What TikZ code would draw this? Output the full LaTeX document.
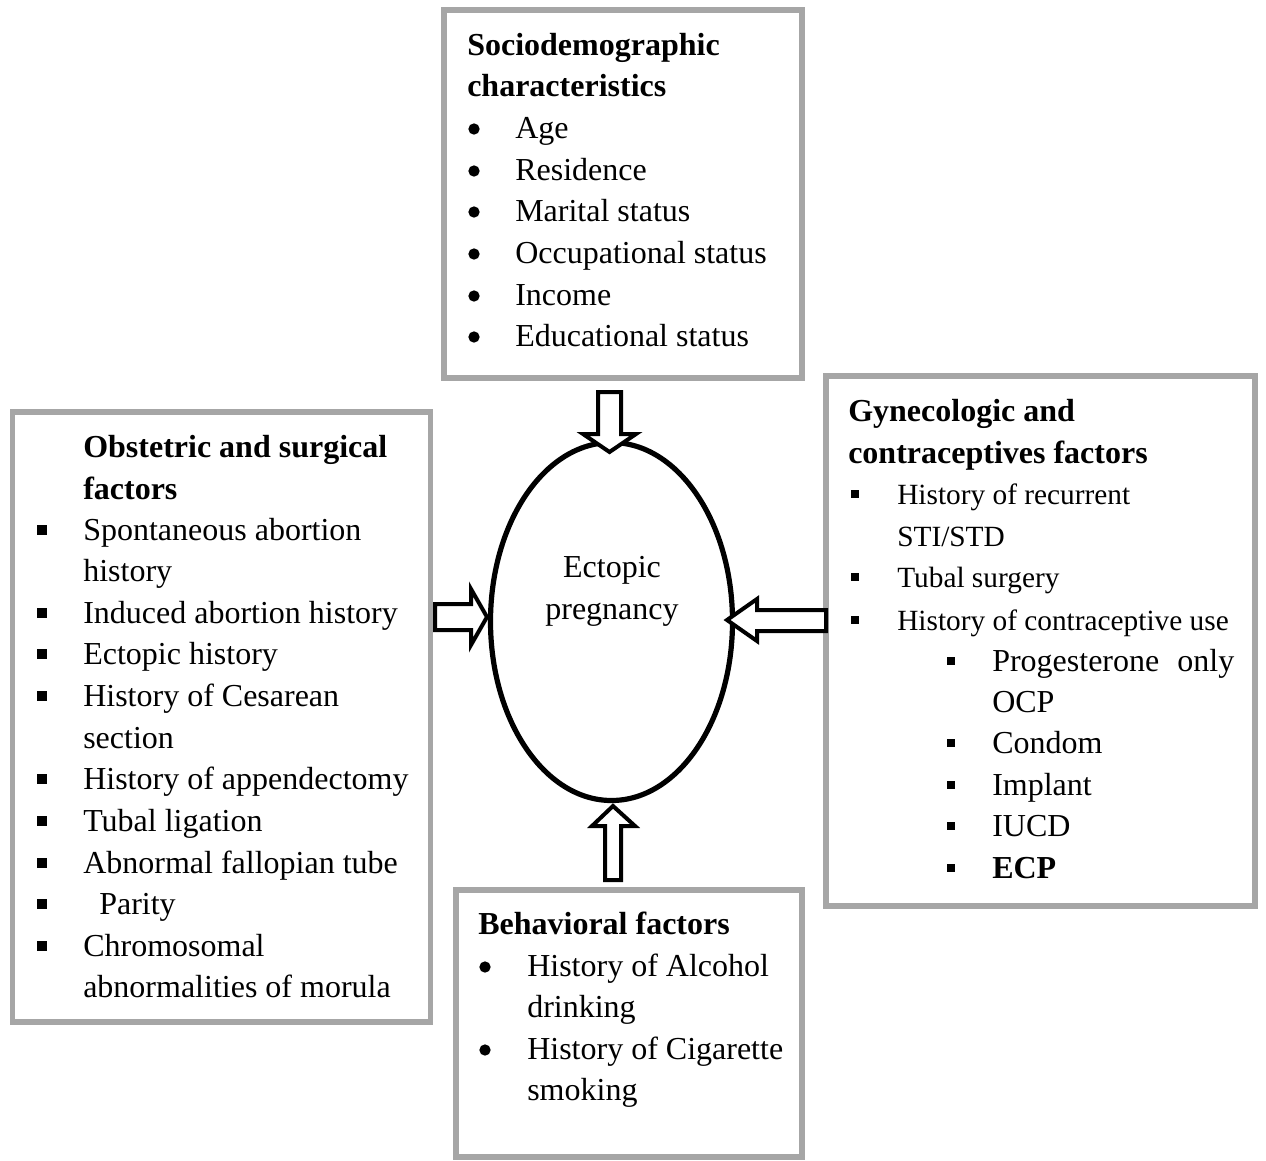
\documentclass[tikz,border=0pt]{standalone}
\usepackage{fontspec}
\setmainfont{Liberation Serif}
\usetikzlibrary{fit}
\definecolor{boxgray}{HTML}{A6A6A6}
\newcounter{ln}
\newcommand\tline[3]{\stepcounter{ln}\node[txt] (l\theln) at (#1,#2+9) {#3};}
\newcommand\sqb[2]{\stepcounter{ln}\node[sqbullet] (b\theln) at (#1,#2-1) {};}
\newcommand\sqs[2]{\stepcounter{ln}\node[sqsmall] (b\theln) at (#1,#2-1) {};}
\newcommand\rdb[2]{\stepcounter{ln}\node[rdbullet] (b\theln) at (#1,#2) {};}
\begin{document}
\begin{tikzpicture}[x=0.75pt,y=-0.75pt,
  box/.style={draw=boxgray,line width=3.9pt,inner sep=0pt,fill=white},
  txt/.style={anchor=base west,inner sep=0pt,font=\fontsize{24}{30}\selectfont},
  stxt/.style={anchor=base west,inner sep=0pt,font=\fontsize{22}{28}\selectfont},
  sqbullet/.style={fill=black,inner sep=0pt,minimum size=7.5pt,draw=none},
  sqsmall/.style={fill=black,inner sep=0pt,minimum size=6.2pt,draw=none},
  rdbullet/.style={circle,fill=black,inner sep=0pt,minimum size=8.5pt,draw=none},
  blockarrow/.style={draw=black,fill=white,line width=3pt,line join=miter}]
\useasboundingbox (0,0) rectangle (1266,1160);
% boxes
\node[box,fit={(444,10) (802,378)}] (top) {};
\node[box,fit={(12.5,412) (430.5,1022)}] (left) {};
\node[box,fit={(826,376) (1255,906)}] (right) {};
\node[box,fit={(456,890) (802,1157)}] (bottom) {};
% ellipse
\draw[line width=3.9pt] (611.5,621.5) ellipse [x radius=121, y radius=179];
\coordinate (ell) at (611.5,621.5);
\node[anchor=base,inner sep=0pt,font=\fontsize{24}{30}\selectfont] (ect1) at (612,577) {Ectopic};
\node[anchor=base,inner sep=0pt,font=\fontsize{24}{30}\selectfont] (ect2) at (612,619) {pregnancy};
% arrows
\draw[blockarrow] (598,392) -- (621,392) -- (621,434) -- (636,434) -- (609.5,452) -- (583,434) -- (598,434) -- cycle;
\draw[blockarrow] (435,604) -- (471,604) -- (471,589) -- (487,617) -- (471,645) -- (471,630) -- (435,630) -- cycle;
\draw[blockarrow] (826,610) -- (757,610) -- (757,599) -- (727,620) -- (757,641) -- (757,631) -- (826,631) -- cycle;
\draw[blockarrow] (605,880) -- (605,826) -- (592,826) -- (613,806) -- (635,826) -- (621,826) -- (621,880) -- cycle;
% top box text
\tline{467}{46}{\bfseries Sociodemographic}
\tline{467}{87}{\bfseries characteristics}
\rdb{474}{129}\tline{515}{129}{Age}
\rdb{474}{171}\tline{515}{171}{Residence}
\rdb{474}{212}\tline{515}{212}{Marital status}
\rdb{474}{254}\tline{515}{254}{Occupational status}
\rdb{474}{296}\tline{515}{296}{Income}
\rdb{474}{337}\tline{515}{337}{Educational status}
% left box text
\tline{83}{448}{\bfseries Obstetric and surgical}
\tline{83}{490}{\bfseries factors}
\sqb{42}{531}\tline{83}{531}{Spontaneous abortion}
\tline{83}{572}{history}
\sqb{42}{614}\tline{83}{614}{Induced abortion history}
\sqb{42}{655}\tline{83}{655}{Ectopic history}
\sqb{42}{697}\tline{83}{697}{History of Cesarean}
\tline{83}{739}{section}
\sqb{42}{780}\tline{83}{780}{History of appendectomy}
\sqb{42}{822}\tline{83}{822}{Tubal ligation}
\sqb{42}{864}\tline{83}{864}{Abnormal fallopian tube}
\sqb{42}{905}\tline{99}{905}{Parity}
\sqb{42}{947}\tline{83}{947}{Chromosomal}
\tline{83}{988}{abnormalities of morula}
% right box text
\tline{848}{412}{\bfseries Gynecologic and}
\tline{848}{454}{\bfseries contraceptives factors}
\sqs{855}{495}\stepcounter{ln}\node[stxt] (l\theln) at (897,504) {History of recurrent};
\stepcounter{ln}\node[stxt] (l\theln) at (897,546) {STI/STD};
\sqs{855}{578}\stepcounter{ln}\node[stxt] (l\theln) at (897,587) {Tubal surgery};
\sqs{855}{621}\stepcounter{ln}\node[stxt] (l\theln) at (897,630) {History of contraceptive use};
\sqs{951}{662}\tline{992}{662}{\makebox[181.5pt][l]{Progesterone\hfill only}}
\tline{992}{703}{OCP}
\sqs{951}{744}\tline{992}{744}{Condom}
\sqs{951}{786}\tline{992}{786}{Implant}
\sqs{951}{827}\tline{992}{827}{IUCD}
\sqs{951}{869}\tline{992}{869}{\bfseries ECP}
% bottom box text
\tline{478}{925}{\bfseries Behavioral factors}
\rdb{485}{967}\tline{527}{967}{History of Alcohol}
\tline{527}{1008}{drinking}
\rdb{485}{1050}\tline{527}{1050}{History of Cigarette}
\tline{527}{1091}{smoking}
\end{tikzpicture}
\end{document}
